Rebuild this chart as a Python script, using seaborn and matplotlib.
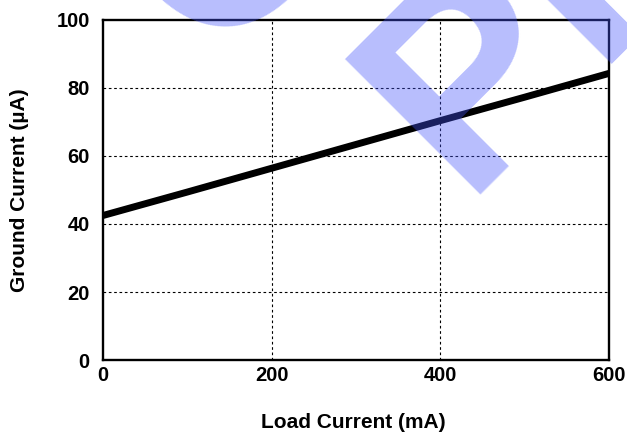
import matplotlib
matplotlib.use("Agg")
import matplotlib.pyplot as plt
import seaborn as sns
import pandas as pd

# Ground current versus load current
load_current_ma = [0, 100, 200, 300, 400, 500, 600]
ground_current_ua = [42.5, 49.4, 56.4, 63.4, 70.4, 77.3, 84.3]

x_ticks = [0, 200, 400, 600]
y_ticks = [0, 20, 40, 60, 80, 100]

sns.set_theme(style="white")
plt.rcParams["font.family"] = ["Liberation Sans", "DejaVu Sans"]
plt.rcParams["font.weight"] = "bold"

df = pd.DataFrame({"load": load_current_ma, "ground": ground_current_ua})

W, H = 627, 434
fig = plt.figure(figsize=(W / 100, H / 100), dpi=100)
ax = fig.add_axes([103 / W, (H - 360) / H, (609 - 103) / W, (360 - 20) / H])

sns.lineplot(data=df, x="load", y="ground", ax=ax, color="black",
             linewidth=5.0, solid_capstyle="butt", zorder=3)

ax.set_xlim(0, 600)
ax.set_ylim(0, 100)
ax.set_xticks(x_ticks)
ax.set_yticks(y_ticks)
ax.set_xticklabels([str(v) for v in x_ticks], fontsize=14.5, fontweight="bold")
ax.set_yticklabels([str(v) for v in y_ticks], fontsize=14.5, fontweight="bold")
ax.tick_params(axis="both", length=0, colors="black")
ax.tick_params(axis="y", pad=9.5)
ax.tick_params(axis="x", pad=4)

# Interior dotted grid
for xv in x_ticks[1:-1]:
    ax.axvline(xv, color="black", linewidth=0.8, linestyle=(0, (2.4, 2.4)), zorder=1)
for yv in y_ticks[1:-1]:
    ax.axhline(yv, color="black", linewidth=0.8, linestyle=(0, (2.4, 2.4)), zorder=1)
ax.grid(False)

for side in ax.spines.values():
    side.set_visible(True)
    side.set_color("black")
    side.set_linewidth(1.7)
    side.set_zorder(4)

ax.set_xlabel("Load Current (mA)", fontsize=15, fontweight="bold", color="black")
ax.set_ylabel("Ground Current (µA)", fontsize=15, fontweight="bold", color="black")
ax.xaxis.label.set_va("baseline")
ax.xaxis.set_label_coords((353 - 103) / 506, (360 - 428) / 340)
ax.yaxis.label.set_va("center")
ax.yaxis.set_label_coords((20 - 103) / 506, 0.5)

# Diagonal translucent watermark
wm = dict(rotation=45, rotation_mode="anchor", ha="left", va="baseline",
          fontsize=201, fontweight="bold", color=(68 / 255, 84 / 255, 252 / 255),
          alpha=0.38, zorder=10, family="Liberation Sans")
fig.text(211.8 / W, (H - 60.4) / H, "CONFIDENTIAL", **wm)
fig.text(462.3 / W, (H - 195.1) / H, "PRELIMINARY", **wm)

fig.savefig("out.png", dpi=100, facecolor="white")
